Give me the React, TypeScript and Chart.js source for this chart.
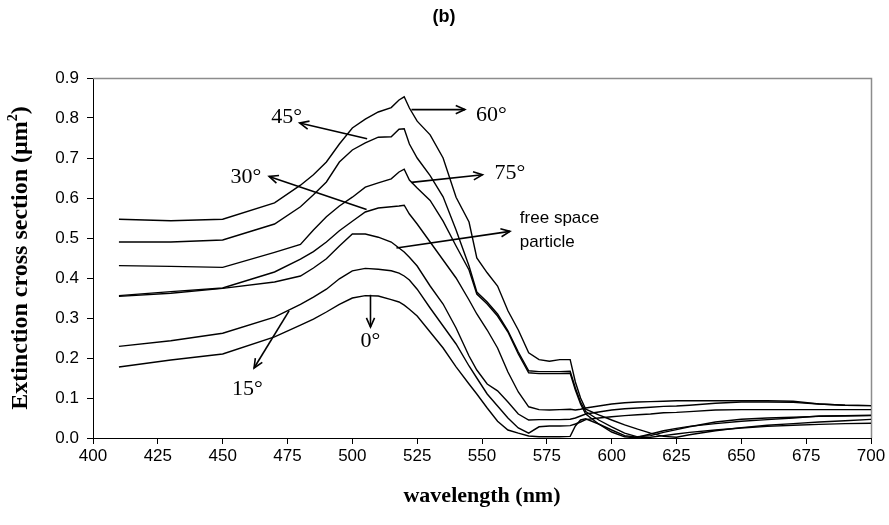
import React, { useEffect, useRef } from "react";
import { Chart, registerables } from "chart.js";

Chart.register(...registerables);

// ---------- data ----------
const wavelengths = [410, 430, 450, 470, 480, 485, 490, 495, 500, 505, 510, 515, 518, 520, 522, 525, 530, 535, 540, 545, 548, 552, 556, 560, 564, 568, 572, 576, 580, 584, 586, 588, 590, 595, 600, 605, 610, 615, 620, 625, 630, 640, 650, 660, 670, 680, 690, 700];

const deg60 = [0.547, 0.543, 0.547, 0.588, 0.632, 0.658, 0.69, 0.735, 0.775, 0.797, 0.815, 0.826, 0.845, 0.853, 0.825, 0.792, 0.758, 0.7, 0.602, 0.54, 0.45, 0.413, 0.38, 0.318, 0.27, 0.213, 0.196, 0.192, 0.196, 0.196, 0.14, 0.1, 0.072, 0.058, 0.045, 0.033, 0.022, 0.012, 0.004, 0.002, 0.008, 0.018, 0.026, 0.032, 0.036, 0.04, 0.043, 0.0465];

const deg45 = [0.49, 0.49, 0.495, 0.535, 0.578, 0.608, 0.64, 0.69, 0.72, 0.738, 0.752, 0.753, 0.772, 0.773, 0.735, 0.7, 0.656, 0.603, 0.52, 0.43, 0.365, 0.34, 0.31, 0.268, 0.215, 0.168, 0.166, 0.166, 0.166, 0.167, 0.125, 0.09, 0.066, 0.045, 0.028, 0.012, 0.003, 0.006, 0.014, 0.021, 0.028, 0.04, 0.047, 0.05, 0.052, 0.054, 0.055, 0.056];

const deg75 = [0.431, 0.429, 0.4265, 0.464, 0.484, 0.52, 0.553, 0.58, 0.602, 0.627, 0.638, 0.648, 0.665, 0.672, 0.645, 0.625, 0.594, 0.542, 0.48, 0.42, 0.36, 0.335, 0.305, 0.265, 0.21, 0.163, 0.161, 0.161, 0.161, 0.162, 0.12, 0.085, 0.06, 0.035, 0.015, 0.003, 0.0, 0.002, 0.006, 0.01, 0.014, 0.02, 0.025, 0.029, 0.032, 0.034, 0.036, 0.037];

const deg30 = [0.356, 0.366, 0.375, 0.415, 0.447, 0.466, 0.49, 0.518, 0.542, 0.565, 0.575, 0.578, 0.58, 0.582, 0.56, 0.535, 0.49, 0.445, 0.4, 0.345, 0.31, 0.27, 0.225, 0.165, 0.115, 0.078, 0.071, 0.07, 0.071, 0.072, 0.07, 0.072, 0.075, 0.08, 0.085, 0.088, 0.09, 0.091, 0.092, 0.093, 0.093, 0.093, 0.093, 0.093, 0.092, 0.085, 0.082, 0.081];

const freeSpace = [0.354, 0.362, 0.374, 0.39, 0.405, 0.425, 0.448, 0.48, 0.51, 0.51, 0.502, 0.49, 0.475, 0.465, 0.452, 0.43, 0.38, 0.335, 0.275, 0.205, 0.17, 0.135, 0.118, 0.09, 0.06, 0.045, 0.046, 0.046, 0.046, 0.047, 0.05, 0.055, 0.06, 0.065, 0.07, 0.073, 0.075, 0.077, 0.079, 0.08, 0.082, 0.087, 0.09, 0.09, 0.089, 0.085, 0.082, 0.081];

const deg15 = [0.229, 0.243, 0.262, 0.302, 0.334, 0.352, 0.372, 0.398, 0.418, 0.424, 0.422, 0.418, 0.412, 0.405, 0.395, 0.372, 0.325, 0.28, 0.235, 0.18, 0.15, 0.11, 0.08, 0.05, 0.025, 0.012, 0.028, 0.03, 0.03, 0.031, 0.035, 0.04, 0.046, 0.05, 0.053, 0.056, 0.058, 0.06, 0.063, 0.064, 0.066, 0.07, 0.071, 0.071, 0.071, 0.071, 0.071, 0.071];

const deg0 = [0.1775, 0.195, 0.21, 0.253, 0.282, 0.297, 0.315, 0.334, 0.35, 0.356, 0.355, 0.346, 0.34, 0.332, 0.322, 0.305, 0.265, 0.225, 0.178, 0.135, 0.11, 0.075, 0.042, 0.02, 0.012, 0.005, 0.003, 0.003, 0.003, 0.004, 0.03, 0.045, 0.048, 0.035, 0.02, 0.006, 0.002, 0.01, 0.018, 0.024, 0.029, 0.036, 0.042, 0.046, 0.05, 0.055, 0.056, 0.057];

const seriesNames = ["60°", "45°", "75°", "30°", "free space particle", "15°", "0°"];
const seriesValues = [deg60, deg45, deg75, deg30, freeSpace, deg15, deg0];

const xTickValues = [400, 425, 450, 475, 500, 525, 550, 575, 600, 625, 650, 675, 700];
const yTickValues = [0, 0.1, 0.2, 0.3, 0.4, 0.5, 0.6, 0.7, 0.8, 0.9];

const chartTitle = "(b)";
const xTitle = "wavelength (nm)";
const yTitle = "Extinction cross section (µm";
const yTitleSup = "2";

// annotation arrows: [wavelength, value] anchors
const annotations = [
  { text: ["45°"], tail: [505.7, 0.748], tip: [479.7, 0.7875], label: [474.7, 0.803], sans: false },
  { text: ["60°"], tail: [522.8, 0.821], tip: [543.4, 0.821], label: [553.6, 0.808], sans: false },
  { text: ["30°"], tail: [505.5, 0.571], tip: [467.9, 0.654], label: [459.0, 0.652], sans: false },
  { text: ["75°"], tail: [522.8, 0.639], tip: [550.2, 0.658], label: [560.8, 0.661], sans: false },
  { text: ["free space", "particle"], tail: [517.0, 0.475], tip: [560.8, 0.5165], label: [564.6, 0.52], sans: true },
  { text: ["15°"], tail: [475.6, 0.318], tip: [462.1, 0.175], label: [459.5, 0.123], sans: false },
  { text: ["0°"], tail: [507.0, 0.358], tip: [507.0, 0.2775], label: [507.0, 0.243], sans: false },
];

const SERIF = "'Liberation Serif', 'Times New Roman', serif";
const SANS = "'Liberation Sans', Arial, sans-serif";

function drawArrow(ctx: CanvasRenderingContext2D, x1: number, y1: number, x2: number, y2: number) {
  ctx.save();
  ctx.strokeStyle = "#000";
  ctx.lineWidth = 1.6;
  ctx.beginPath();
  ctx.moveTo(x1, y1);
  ctx.lineTo(x2, y2);
  ctx.stroke();
  const ang = Math.atan2(y2 - y1, x2 - x1);
  const len = 10;
  const spread = 0.42;
  ctx.beginPath();
  ctx.moveTo(x2 - len * Math.cos(ang - spread), y2 - len * Math.sin(ang - spread));
  ctx.lineTo(x2, y2);
  ctx.lineTo(x2 - len * Math.cos(ang + spread), y2 - len * Math.sin(ang + spread));
  ctx.stroke();
  ctx.restore();
}

const overlayPlugin = {
  id: "overlay",
  beforeDatasetsDraw(chart: any) {
    const { ctx, chartArea } = chart;
    ctx.save();
    ctx.strokeStyle = "#8c8c8c";
    ctx.lineWidth = 1.5;
    ctx.beginPath();
    ctx.moveTo(chartArea.left, chartArea.top + 0.5);
    ctx.lineTo(chartArea.right + 0.5, chartArea.top + 0.5);
    ctx.lineTo(chartArea.right + 0.5, chartArea.bottom);
    ctx.stroke();
    ctx.restore();
  },
  afterDraw(chart: any) {
    const { ctx, chartArea } = chart;
    const xs = chart.scales.x;
    const ys = chart.scales.y;
    ctx.save();
    for (const a of annotations) {
      drawArrow(ctx, xs.getPixelForValue(a.tail[0]), ys.getPixelForValue(a.tail[1]), xs.getPixelForValue(a.tip[0]), ys.getPixelForValue(a.tip[1]));
      ctx.fillStyle = "#000";
      if (a.sans) {
        ctx.font = `17px ${SANS}`;
        ctx.textAlign = "left";
        ctx.textBaseline = "middle";
        const lx = xs.getPixelForValue(a.label[0]);
        const ly = ys.getPixelForValue(a.label[1]);
        ctx.fillText(a.text[0], lx, ly - 12);
        ctx.fillText(a.text[1], lx, ly + 12);
      } else {
        ctx.font = `22px ${SERIF}`;
        ctx.textAlign = "center";
        ctx.textBaseline = "middle";
        ctx.fillText(a.text[0], xs.getPixelForValue(a.label[0]), ys.getPixelForValue(a.label[1]));
      }
    }
    // chart title
    ctx.font = `bold 18px ${SANS}`;
    ctx.textAlign = "center";
    ctx.textBaseline = "middle";
    ctx.fillText(chartTitle, 444, 17);
    // x title
    ctx.font = `bold 22px ${SERIF}`;
    ctx.fillText(xTitle, (chartArea.left + chartArea.right) / 2, 496);
    // y title (rotated)
    ctx.save();
    ctx.translate(21, (chartArea.top + chartArea.bottom) / 2);
    ctx.rotate(-Math.PI / 2);
    ctx.font = `bold 24px ${SERIF}`;
    const w1 = ctx.measureText(yTitle).width;
    ctx.font = `bold 14px ${SERIF}`;
    const w2 = ctx.measureText(yTitleSup).width;
    ctx.font = `bold 24px ${SERIF}`;
    const w3 = ctx.measureText(")").width;
    const total = w1 + w2 + w3;
    const x0 = -total / 2;
    ctx.textAlign = "left";
    ctx.fillText(yTitle, x0, 0);
    ctx.font = `bold 14px ${SERIF}`;
    ctx.fillText(yTitleSup, x0 + w1, -8);
    ctx.font = `bold 24px ${SERIF}`;
    ctx.fillText(")", x0 + w1 + w2, 0);
    ctx.restore();
    ctx.restore();
  },
};

export default function App() {
  const canvasRef = useRef<HTMLCanvasElement | null>(null);

  useEffect(() => {
    const canvas = canvasRef.current;
    if (!canvas) return;
    const chart = new Chart(canvas, {
      type: "line",
      data: {
        datasets: seriesValues.map((vals, i) => ({
          label: seriesNames[i],
          data: wavelengths.map((w, j) => ({ x: w, y: vals[j] })),
          borderColor: "#000",
          borderWidth: 1.4,
          pointRadius: 0,
          tension: 0,
          fill: false,
        })),
      },
      options: {
        animation: false,
        responsive: false,
        maintainAspectRatio: false,
        devicePixelRatio: 1,
        layout: { padding: { left: 0, right: 18, top: 78, bottom: 0 } },
        plugins: {
          legend: { display: false },
          tooltip: { enabled: false },
          title: { display: false },
        },
        scales: {
          x: {
            type: "linear",
            min: 400,
            max: 700,
            afterBuildTicks: (s: any) => {
              s.ticks = xTickValues.map((v) => ({ value: v }));
            },
            afterFit: (s: any) => {
              s.height = 87;
            },
            ticks: {
              color: "#000",
              font: { family: SANS, size: 17 },
              padding: 2,
              maxRotation: 0,
              autoSkip: false,
              callback: (v: any) => String(v),
            },
            grid: { drawOnChartArea: false, drawTicks: true, tickLength: 6, color: "#000", lineWidth: 1 },
            border: { display: true, color: "#000", width: 1 },
          },
          y: {
            type: "linear",
            min: 0,
            max: 0.9,
            afterBuildTicks: (s: any) => {
              s.ticks = yTickValues.map((v) => ({ value: v }));
            },
            afterFit: (s: any) => {
              s.width = 93;
            },
            ticks: {
              color: "#000",
              font: { family: SANS, size: 17 },
              padding: 8,
              autoSkip: false,
              callback: (v: any) => Number(v).toFixed(1),
            },
            grid: { drawOnChartArea: false, drawTicks: true, tickLength: 6, color: "#000", lineWidth: 1 },
            border: { display: true, color: "#000", width: 1 },
          },
        },
      },
      plugins: [overlayPlugin],
    });
    return () => chart.destroy();
  }, []);

  return (
    <div style={{ position: "absolute", left: 0, top: 0, width: 889, height: 525, background: "#fff" }}>
      <canvas ref={canvasRef} width={889} height={525} style={{ width: 889, height: 525 }} />
    </div>
  );
}
